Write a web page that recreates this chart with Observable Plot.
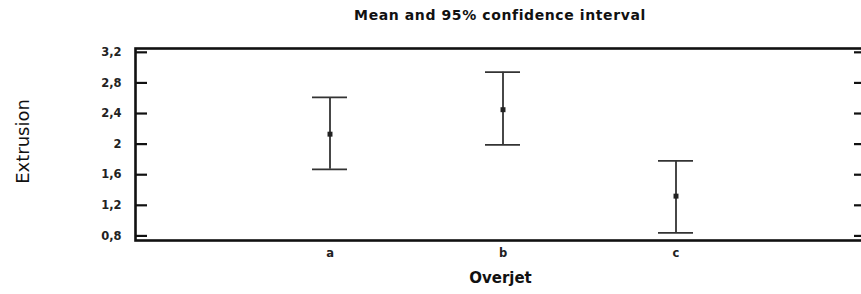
<!DOCTYPE html>
<html>
<head>
<meta charset="utf-8">
<script src="https://cdn.jsdelivr.net/npm/d3@7"></script>
<script src="https://cdn.jsdelivr.net/npm/@observablehq/plot@0.6"></script>
<style>
  html, body { margin: 0; padding: 0; background: #fff; overflow: hidden; width: 861px; height: 294px; }
  #title { width: 730px; margin-left: 135px; height: 30px; line-height: 31px; text-align: center;
    font-family: "DejaVu Sans", sans-serif; font-weight: bold; font-size: 14px; letter-spacing: 0.6px; color: #111; white-space: nowrap; }
  #chart svg { display: block; max-width: none !important; }
</style>
</head>
<body>
<div id="title"></div>
<div id="chart"></div>
<script>
const categories = ["a", "b", "c"];
const means = [2.13, 2.45, 1.32];
const lower = [1.67, 1.99, 0.84];
const upper = [2.61, 2.94, 1.78];
const yTicks = [0.8, 1.2, 1.6, 2, 2.4, 2.8, 3.2];
const title = "Mean and 95% confidence interval";
const xLabel = "Overjet";
const yLabel = "Extrusion";

const data = categories.map((c, i) => ({cat: c, mean: means[i], lo: lower[i], hi: upper[i]}));
const fmt = d => String(d).replace(".", ",");
const ink = "#333";

const chart = Plot.plot({
  width: 880,
  height: 264,
  marginLeft: 135,
  marginRight: 15,
  marginTop: 18,
  marginBottom: 54,
  style: {fontFamily: "DejaVu Sans, sans-serif", background: "#fff", color: "#111", overflow: "visible", maxWidth: "none"},
  x: {type: "band", domain: categories, paddingInner: 0.80, paddingOuter: 1.0075, align: 0.507},
  y: {domain: [0.74, 3.25]},
  marks: [
    Plot.frame({stroke: "#111", strokeWidth: 2.6}),
    Plot.axisY({ticks: yTicks, tickSize: -12, tickFormat: () => "", strokeWidth: 2.2, stroke: "#111"}),
    Plot.axisY({anchor: "right", ticks: yTicks, tickSize: -12, tickFormat: () => "", strokeWidth: 2.2, stroke: "#111"}),
    Plot.axisY({ticks: yTicks, tickSize: 0, tickPadding: 14, tickFormat: fmt, label: null,
      fontSize: 11.5, fontWeight: "bold", letterSpacing: 1.8, fill: "#222"}),
    Plot.axisX({tickSize: 0, tickPadding: 8, label: null, fontSize: 11.5, fontWeight: "bold", fill: "#222"}),
    Plot.ruleX(data, {x: "cat", y1: "lo", y2: "hi", stroke: ink, strokeWidth: 1.8}),
    Plot.tickY(data, {x: "cat", y: "hi", stroke: ink, strokeWidth: 1.8}),
    Plot.tickY(data, {x: "cat", y: "lo", stroke: ink, strokeWidth: 1.8}),
    Plot.dot(data, {x: "cat", y: "mean", symbol: "square", r: 2.8, fill: "#222", stroke: null}),
    Plot.text([xLabel], {frameAnchor: "bottom", dy: 42, fontSize: 15, fontWeight: "bold", fill: "#111", text: d => d}),
    Plot.text([yLabel], {frameAnchor: "left", textAnchor: "middle", dx: -112, dy: -3, rotate: -90, fontSize: 18, letterSpacing: 1.8, fill: "#111", text: d => d})
  ]
});
document.getElementById("chart").appendChild(chart);
document.getElementById("title").textContent = title;
</script>
</body>
</html>
